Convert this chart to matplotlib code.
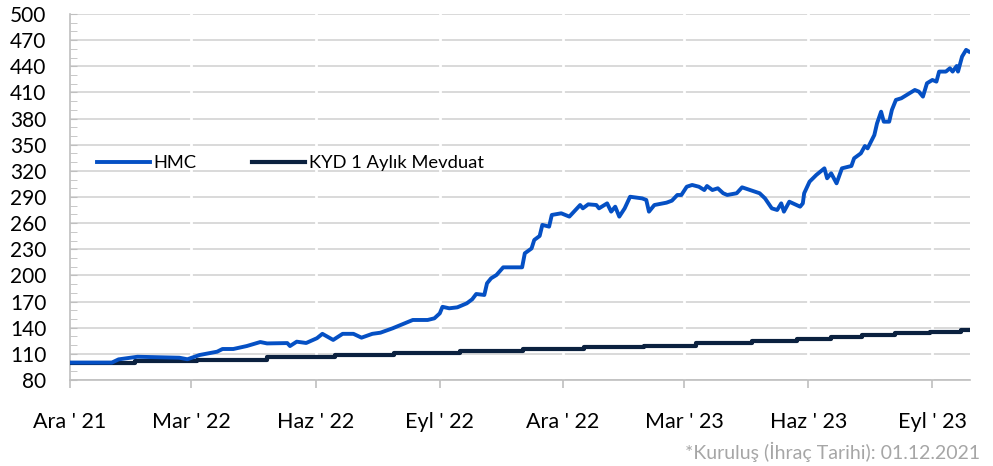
import numpy as np
import pandas as pd
import matplotlib
matplotlib.use("Agg")
import matplotlib.pyplot as plt
from matplotlib.ticker import MultipleLocator

plt.rcParams['font.family'] = ['Lato', 'DejaVu Sans']

start = pd.Timestamp('2021-12-01')

# HMC: gun (kurulustan itibaren) ve deger
hmc_days = [0, 31, 36, 50, 81, 87, 96, 109, 113, 121, 131, 141, 146, 161, 163, 168,
            175, 183, 187, 195, 202, 210, 216, 224, 230, 239, 248, 254, 265, 270,
            274, 276, 281, 287, 294, 298, 301, 307, 309, 312, 316, 321, 328, 335,
            337, 342, 344, 348, 350, 355, 357, 364, 370, 378, 380, 384, 390, 392,
            398, 401, 404, 407, 411, 415, 424, 427, 429, 433, 442, 446, 450, 453,
            457, 461, 466, 470, 472, 476, 480, 484, 487, 494, 498, 504, 511, 515,
            520, 524, 527, 529, 533, 541, 543, 544, 548, 553, 559, 561, 564, 568,
            572, 579, 581, 586, 589, 591, 596, 598, 601, 603, 607, 609, 612, 616,
            618, 622, 626, 629, 632, 635, 639, 642, 644, 649, 652, 654, 657, 658,
            660, 661, 664, 666]
hmc_vals = [100.0, 100.0, 103.7, 106.7, 105.6, 103.8, 108.7, 112.5, 115.6, 115.6,
            119.0, 123.6, 122.0, 122.4, 119.0, 124.0, 122.5, 128.0, 133.0, 126.0,
            133.0, 133.0, 128.6, 133.0, 134.3, 139.3, 145.0, 148.9, 148.9, 150.8,
            156.5, 164.0, 162.3, 163.4, 168.0, 172.6, 178.7, 177.6, 191.0, 196.7,
            200.5, 209.3, 209.3, 209.3, 225.4, 231.0, 240.7, 245.3, 258.0, 256.0,
            269.4, 271.3, 267.5, 280.8, 277.0, 281.6, 280.8, 277.0, 282.7, 273.2,
            278.9, 267.5, 277.0, 290.3, 288.4, 286.6, 273.2, 280.8, 283.5, 285.8,
            292.3, 292.3, 301.8, 303.8, 301.8, 298.0, 302.6, 298.0, 300.0, 294.3,
            292.3, 294.3, 301.1, 298.0, 294.3, 288.4, 277.0, 275.1, 282.7, 273.2,
            284.6, 278.9, 282.7, 294.3, 307.6, 315.3, 322.9, 311.5, 317.2, 305.7,
            322.9, 325.6, 334.4, 340.1, 348.5, 345.8, 361.1, 374.5, 387.9, 376.4,
            376.4, 389.9, 401.4, 403.3, 405.2, 409.0, 412.8, 410.9, 405.2, 420.5,
            424.3, 422.4, 433.9, 433.9, 437.7, 433.9, 440.3, 433.9, 445.4, 451.1,
            458.8, 456.9]

# KYD 1 Aylik Mevduat: basamak gunleri ve seviyeler
kyd_days = [0, 48, 94, 146, 196, 240, 289, 336, 381, 425, 464, 505, 539, 564,
            587, 611, 637, 660, 666]
kyd_vals = [100.0, 101.8, 103.5, 106.0, 108.5, 111.0, 113.5, 116.0, 118.2, 119.4,
            122.0, 124.4, 126.7, 129.0, 131.5, 133.6, 135.5, 137.4, 137.4]

tick_dates = ['2021-12-01', '2022-03-01', '2022-06-01', '2022-09-01',
              '2022-12-01', '2023-03-01', '2023-06-01', '2023-09-01']
tick_labels = ["Ara ' 21", "Mar ' 22", "Haz ' 22", "Eyl ' 22",
               "Ara ' 22", "Mar ' 23", "Haz ' 23", "Eyl ' 23"]

hmc_x = start + pd.to_timedelta(hmc_days, unit='D')
kyd_x = start + pd.to_timedelta(kyd_days, unit='D')
ticks = pd.to_datetime(tick_dates)

fig = plt.figure(figsize=(9.93, 4.66), dpi=100)
ax = fig.add_axes([0.0705, 0.1845, 0.9065, 0.7855])

ax.plot(hmc_x, hmc_vals, color='#0550c4', lw=2.8, label='HMC', zorder=4,
        solid_joinstyle='round')
ax.plot(kyd_x, kyd_vals, color='#0b213f', lw=3.0, drawstyle='steps-post',
        label='KYD 1 Aylık Mevduat', zorder=3)

ax.set_ylim(80, 500)
ax.set_yticks(np.arange(80, 501, 30))
ax.yaxis.set_minor_locator(MultipleLocator(10))
ax.set_xlim(start, start + pd.Timedelta(days=667))
ax.set_xticks(ticks)
ax.set_xticklabels(tick_labels)

ax.grid(axis='y', color='#d9d9d9', lw=1.4, zorder=0)
for t in ticks[1:]:
    ax.axvline(t, color='white', lw=2, zorder=1)
ax.set_axisbelow(True)

for s in ['top', 'right']:
    ax.spines[s].set_visible(False)
for s in ['left', 'bottom']:
    ax.spines[s].set_color('#bfbfbf')
    ax.spines[s].set_linewidth(1.2)

ax.tick_params(axis='y', which='both', direction='in', colors='#bfbfbf',
               labelcolor='black', labelsize=15, pad=17, length=5)
ax.tick_params(axis='x', direction='out', colors='#bfbfbf', labelcolor='black',
               labelsize=15.5, pad=17, length=6, width=1.2)

ax.legend(loc='center left', bbox_to_anchor=(97 / 993, 1 - 163 / 466),
          bbox_transform=fig.transFigure, frameon=False, ncol=2, fontsize=13.2,
          handlelength=2.9, handletextpad=0.2, columnspacing=3.0,
          borderpad=0, borderaxespad=0)

fig.text(980 / 993, 1 - 452 / 466, '*Kuruluş (İhraç Tarihi): 01.12.2021',
         ha='right', va='center', color='#a6a6a6', fontsize=14)

fig.savefig('out.png', dpi=100)
